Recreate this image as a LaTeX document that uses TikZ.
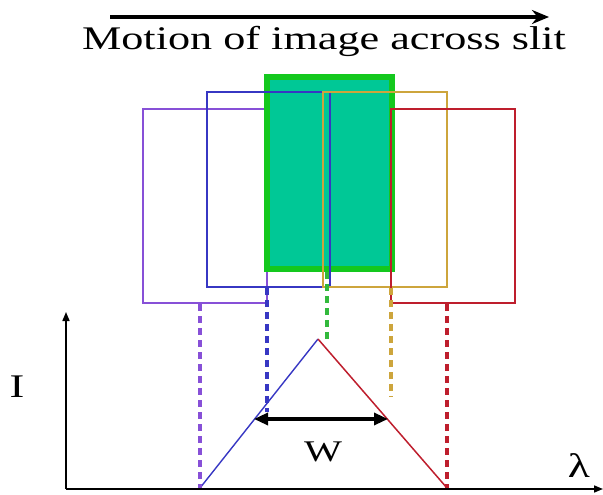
\documentclass[tikz,border=0pt]{standalone}
\usepackage{fontspec}
\setmainfont{Liberation Serif}
\usetikzlibrary{arrows.meta}
\definecolor{cpurple}{RGB}{135,80,215}
\definecolor{cblue}{RGB}{55,55,195}
\definecolor{cgreenfill}{RGB}{0,200,150}
\definecolor{cgreenline}{RGB}{20,200,30}
\definecolor{cgold}{RGB}{205,165,60}
\definecolor{cred}{RGB}{190,30,45}
\definecolor{cgdash}{RGB}{50,185,60}
\begin{document}
\begin{tikzpicture}[x=1pt,y=-1pt,
  frame/.style={line width=2.8pt},
  guide/.style={line width=3.4pt,dash pattern=on 7pt off 5pt},
  lbl/.style={inner sep=0pt,xscale=1.34},
  axis/.style={line width=1.6pt,-{Triangle[length=9pt,width=7pt]}}]
\useasboundingbox (0,0) rectangle (603,495);
% title arrow and text
\coordinate (ms) at (110,17);
\coordinate (me) at (549,17);
\draw[line width=3.6pt,-{Stealth[length=17pt,width=14pt]}] (ms) -- (me);
\node[lbl,anchor=base,font=\fontsize{33}{36}\selectfont] (title) at (324,50) {Motion of image across slit};
% rectangles
\draw[frame,cpurple] (143,109) rectangle (267,303);
\draw[line width=6pt,cgreenline,fill=cgreenfill] (267,77) rectangle (392,269);
\draw[frame,cblue] (207,92) rectangle (330,287);
\draw[frame,cgold] (323,92) rectangle (447,287);
\draw[frame,cred] (391,109) rectangle (515,303);
% profile
\coordinate (bl) at (200,488);
\coordinate (pk) at (318,339);
\coordinate (br) at (447,488);
\draw[line width=1.4pt,cblue] (bl) -- (pk);
\draw[line width=1.5pt,cred] (pk) -- (br);
% guides
\coordinate (p1) at (200,304);
\coordinate (b1) at (267,288);
\coordinate (b2) at (267,412);
\coordinate (g1) at (327,272);
\coordinate (g2) at (327,339);
\coordinate (y1) at (391,288);
\coordinate (y2) at (391,397);
\coordinate (r1) at (447,304);
\draw[guide,cpurple] (p1) -- (bl);
\draw[guide,cblue] (b1) -- (b2);
\draw[guide,cgdash] (g1) -- (g2);
\draw[guide,cgold] (y1) -- (y2);
\draw[guide,cred] (r1) -- (br);
% axes
\coordinate (o) at (66,489);
\coordinate (yt) at (66,312);
\coordinate (xt) at (603,489);
\draw[axis] (o) -- (yt);
\draw[axis] (o) -- (xt);
% width arrow
\coordinate (wl) at (254,419);
\coordinate (wr) at (388,419);
\draw[line width=3.2pt,{Triangle[length=14pt,width=12pt]}-{Triangle[length=14pt,width=12pt]}] (wl) -- (wr);
\node[lbl,font=\fontsize{30}{32}\selectfont] (W) at (323,452) {W};
\node[lbl,font=\fontsize{33}{36}\selectfont] (I) at (17,387) {I};
\node[lbl,font=\fontsize{34}{36}\selectfont] (lam) at (579,466) {λ};
\end{tikzpicture}
\end{document}
